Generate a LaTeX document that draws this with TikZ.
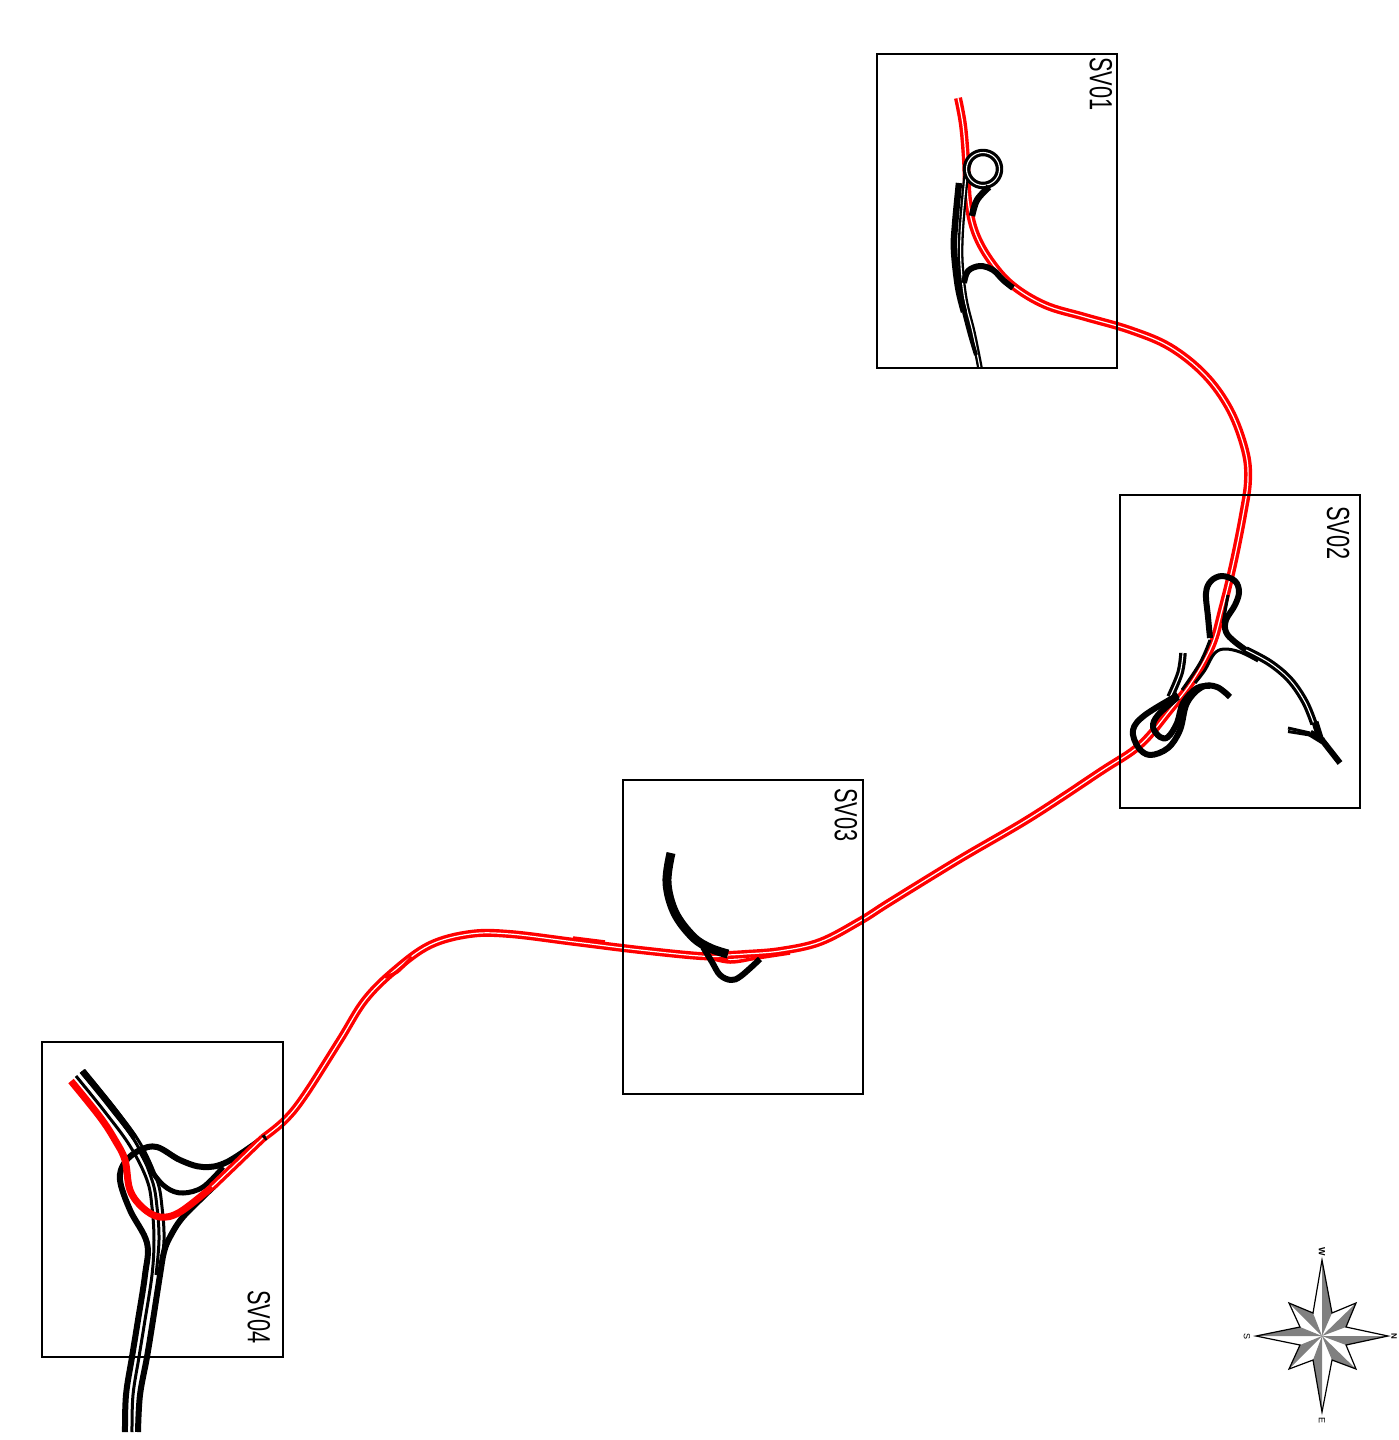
\documentclass[tikz,border=0pt]{standalone}
\usepackage{fontspec}
\setmainfont{Liberation Sans}
\tikzset{
 frame/.style={draw=black,line width=2pt,fill=none},
 redroad/.style={draw=red,line width=3.4pt,double=white,double distance=1.2pt,line join=round},
 redsolid/.style={draw=red,line width=7pt,line join=round},
 blackone/.style={draw=black,line width=6pt,line join=round},
 blackthin/.style={draw=black,line width=3pt,line join=round},
 blackdouble/.style={draw=black,line width=3.2pt,double=white,double distance=1.1pt,line join=round},
 label/.style={rotate=-90,anchor=center,inner sep=0pt,font=\fontsize{32}{32}\selectfont},
 compassletter/.style={rotate=-90,anchor=center,inner sep=0pt,font=\fontsize{9}{9}\selectfont},
 petalgrey/.style={fill=black!50,draw=none},
 smoothy/.style={smooth,tension=.6}
}
\newcommand{\svlabel}[1]{\scalebox{.68}[1]{#1}}
\begin{document}
\begin{tikzpicture}[x=1pt,y=-1pt]
\useasboundingbox (0,0) rectangle (1399,1440);
\fill[white] (0,0) rectangle (1399,1440);

% ---- red main road
\draw[redroad] plot[smoothy] coordinates {(958,98)(963,125)(966,160)(968,200)(975,232)(990,260)(1012,285)(1045,305)(1085,317)(1130,330)(1170,347)(1205,375)(1230,410)(1245,450)(1248,480)(1243,515)(1233,565)(1222,610)(1212,645)(1193,680)(1170,710)(1140,745)(1100,772)(1030,818)(960,859)(890,902)(860,921)(820,942)(780,951)(745,954)(728,955)};
\draw[draw=red,line width=3.5pt] plot[smoothy] coordinates {(790,953)(757,958)(730,962)(707,957)};
\draw[redroad] plot[smoothy] coordinates {(728,956)(700,956)(640,950)(575,942)(510,934)(470,934)(430,945)(395,970)(365,1000)(340,1040)(305,1095)(285,1120)(263,1138)};
\draw[draw=red,line width=3.5pt] (573,938) -- (605,942);
\draw[draw=red,line width=3.5pt] plot[smoothy] coordinates {(385,977)(397,972)(412,957)};

% ---- SV01 black
\draw[blackdouble,line width=2.3pt] plot[smoothy] coordinates {(980,368)(973,333)(965,300)(961,265)(961,235)(964,197)(967,170)(971,158)};
\draw[blackone,line width=6.5pt] plot[smoothy] coordinates {(959,183)(955,225)(954,250)(958,287)(964,312)};
\draw[blackone,line width=4pt] plot[smoothy] coordinates {(964,312)(970,335)(976,355)};
\draw[blackdouble] (983,169) circle (16.5);
\draw[blackone,line width=6.5pt] plot[smoothy] coordinates {(972,216)(977,200)(989,187)};
\draw[blackone] plot[smoothy] coordinates {(964,283)(968,271)(980,266)(993,270)(1003,280)(1013,288)};

% ---- SV02 black
\draw[blackone] plot[smoothy] coordinates {(1210,638)(1208,617)(1206,593)(1211,581)(1222,576)(1235,581)(1239,592)(1235,605)(1226,620)(1226,632)(1235,642)(1253,655)};
\draw[blackdouble] plot[smoothy] coordinates {(1246,650)(1270,663)(1290,680)(1305,702)(1314,724)};
\draw[blackthin] plot[smoothy] coordinates {(1195,683)(1205,670)(1214,654)(1224,649)(1240,652)(1258,661)};
\draw[blackthin] (1228,595) -- (1223,623);
\draw[blackthin] plot[smoothy] coordinates {(1210,640)(1200,663)(1182,690)};
\draw[blackdouble] plot[smoothy] coordinates {(1183,653)(1180,673)(1170,697)};
\draw[blackone] plot[smoothy] coordinates {(1178,695)(1145,715)(1133,730)(1138,747)(1150,755)(1168,748)(1180,730)(1187,703)(1202,687)(1217,687)(1230,697)};
\draw[blackone] plot[smoothy] coordinates {(1178,697)(1158,715)(1153,727)(1160,737)(1168,737)(1177,723)(1183,703)(1197,688)(1210,686)};
\draw[blackthin] (1288,728) -- (1310,733);
\draw[blackthin] (1288,731.5) -- (1310,735);
\draw[blackone,line width=7pt] (1310,733) -- (1323,741);
\draw[blackone,line width=7pt] (1315,722) -- (1320,738);
\draw[blackone] (1322,740) -- (1340,763);

% ---- SV03 black
\draw[blackone,line width=9pt] plot[smoothy] coordinates {(671,853)(667,883)(675,913)(693,937)(710,948)(728,954)};
\draw[blackone] plot[smoothy] coordinates {(703,947)(712,962)(720,975)(731,980)(741,976)(760,959)};

% ---- SV04 black
\draw[blackthin] plot[smoothy] coordinates {(76,1076)(105,1112)(130,1146)(147,1180)(152,1207)(154,1240)(152,1275)(145,1320)(139,1357)(133,1395)(132,1432)};
\draw[blackthin] plot[smoothy] coordinates {(81,1072)(110,1108)(136,1143)(152,1180)(157,1207)(159,1240)(156,1275)};
\draw[blackthin] plot[smoothy] coordinates {(84,1070)(113,1106)(140,1143)(157,1180)(162,1207)(164,1240)(160,1275)};
\draw[blackone] plot[smoothy] coordinates {(82,1071)(112,1107)(135,1138)};
\draw[blackone] plot[smoothy] coordinates {(138,1432)(140,1395)(147,1357)(153,1320)(160,1275)(164,1252)(170,1237)(183,1217)(210,1190)(253,1147)(266,1137)};
\draw[blackone] plot[smoothy] coordinates {(125,1432)(126,1395)(132,1357)(138,1320)(145,1275)(147,1243)(130,1210)(120,1180)(125,1162)(140,1150)(157,1147)(180,1160)(203,1167)(227,1162)(263,1138)};
\draw[blackone,line width=5pt] plot[smoothy] coordinates {(140,1150)(153,1173)(167,1188)(183,1193)(203,1187)(223,1167)};
\draw[redsolid] plot[smoothy] coordinates {(71,1081)(100,1117)(115,1140)(125,1160)(130,1190)(143,1208)(160,1217)(180,1212)(212,1187)};
\draw[redroad] (212,1187) -- (235,1165) -- (263,1138);

% ---- frames
\draw[frame] (877,54) rectangle (1117,368);
\draw[frame] (1120,495) rectangle (1360,808);
\draw[frame] (623,780) rectangle (863,1094);
\draw[frame] (42,1042) rectangle (283,1357);
\node[label] (sv1) at (1101,84) {\svlabel{SV01}};
\node[label] (sv2) at (1338,533) {\svlabel{SV02}};
\node[label] (sv3) at (846,815) {\svlabel{SV03}};
\node[label] (sv4) at (259,1317) {\svlabel{SV04}};

% ---- compass
\fill[petalgrey] (1322,1336) -- (1322,1260) -- (1332,1313) -- cycle;
\fill[petalgrey] (1322,1336) -- (1388,1336) -- (1346,1345) -- cycle;
\fill[petalgrey] (1322,1336) -- (1322,1412) -- (1313,1360) -- cycle;
\fill[petalgrey] (1322,1336) -- (1256,1336) -- (1300,1327) -- cycle;
\fill[petalgrey] (1322,1336) -- (1289,1303) -- (1313,1313) -- cycle;
\fill[petalgrey] (1322,1336) -- (1356,1303) -- (1346,1327) -- cycle;
\fill[petalgrey] (1322,1336) -- (1356,1369) -- (1332,1360) -- cycle;
\fill[petalgrey] (1322,1336) -- (1289,1369) -- (1300,1345) -- cycle;
\draw[draw=black,line width=1.2pt,line join=miter] (1322,1260) -- (1332,1313) -- (1356,1303) -- (1346,1327) -- (1388,1336) -- (1346,1345) -- (1356,1369) -- (1332,1360) -- (1322,1412) -- (1313,1360) -- (1289,1369) -- (1300,1345) -- (1256,1336) -- (1300,1327) -- (1289,1303) -- (1313,1313) -- cycle;
\node[compassletter] (cw) at (1322,1252) {\textbf{W}};
\node[compassletter] (cs) at (1247,1336) {S};
\node[compassletter] (ce) at (1322,1420) {E};
\node[compassletter,font=\fontsize{8}{8}\selectfont\bfseries] (cn) at (1394,1336) {N};
\end{tikzpicture}
\end{document}
